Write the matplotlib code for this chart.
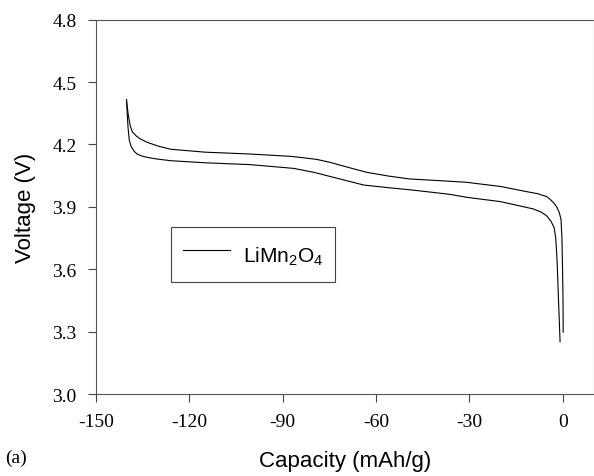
import matplotlib.pyplot as plt
import numpy as np

plt.rcParams['mathtext.fontset'] = 'custom'
plt.rcParams['mathtext.rm'] = 'Liberation Sans'
plt.rcParams['mathtext.it'] = 'Liberation Sans:italic'

# upper curve
cap_upper = [-140.2, -140.0, -139.6, -139.0, -138.3, -137.0, -135.7, -133.5, -130.0,
             -126.0, -115.0, -100.4, -87.6, -84.4, -79.0, -74.8, -69.0, -63.0,
             -56.0, -49.1, -42.0, -36.3, -30.9, -20.0, -11.6, -8.0, -5.0, -3.1,
             -2.0, -1.2, -0.6, -0.3, -0.1, 0.05, 0.1]
volt_upper = [4.415, 4.385, 4.34, 4.29, 4.26, 4.24, 4.226, 4.21, 4.192,
              4.177, 4.163, 4.154, 4.143, 4.138, 4.128, 4.114, 4.090, 4.066,
              4.048, 4.034, 4.028, 4.023, 4.018, 3.998, 3.973, 3.963, 3.948, 3.922,
              3.90, 3.875, 3.84, 3.75, 3.6, 3.45, 3.297]

# lower curve
cap_lower = [-140.2, -140.0, -139.7, -139.3, -138.7, -137.8, -136.8, -135.0, -132.5,
             -130.4, -126.0, -115.0, -100.4, -86.5, -80.0, -73.7, -64.0, -56.0,
             -49.1, -42.0, -36.3, -30.9, -20.0, -9.5, -7.0, -5.2, -3.8, -2.8,
             -2.3, -2.0, -1.8, -1.4, -0.9]
volt_lower = [4.415, 4.36, 4.28, 4.22, 4.19, 4.168, 4.154, 4.143, 4.135,
              4.13, 4.122, 4.112, 4.103, 4.085, 4.066, 4.042, 4.005, 3.992,
              3.982, 3.970, 3.960, 3.946, 3.925, 3.890, 3.875, 3.857, 3.83, 3.80,
              3.75, 3.68, 3.617, 3.45, 3.251]

x_ticks = [-150, -120, -90, -60, -30, 0]
y_ticks = [3.0, 3.3, 3.6, 3.9, 4.2, 4.5, 4.8]

fig = plt.figure(figsize=(5.94, 4.77), dpi=100)
ax = fig.add_axes([0.1616, 0.1719, 0.8384, 0.7847])

ax.plot(cap_upper, volt_upper, color='black', lw=0.8, label='LiMn$_2$O$_4$')
ax.plot(cap_lower, volt_lower, color='black', lw=0.8)

ax.set_xlim(-150, 10)
ax.set_ylim(3.0, 4.8)
ax.set_xticks(x_ticks)
ax.set_yticks(y_ticks)
ax.set_xticklabels([str(t) for t in x_ticks])
ax.set_yticklabels(['%.1f' % t for t in y_ticks])
ax.tick_params(direction='out', length=6, width=0.8, color='#444444', pad=8,
               labelsize=14)
for lab in ax.get_xticklabels() + ax.get_yticklabels():
    lab.set_family('Liberation Serif')
for s in ax.spines.values():
    s.set_color('#555555')
    s.set_linewidth(0.8)

ax.set_xlabel('Capacity (mAh/g)', family='Liberation Sans', fontsize=16, labelpad=14)
ax.set_ylabel('Voltage (V)', family='Liberation Sans', fontsize=16, labelpad=12)

leg = ax.legend(loc='center', bbox_to_anchor=(0.315, 0.372), fancybox=False,
                edgecolor='#444444', framealpha=1, handlelength=2.3,
                handleheight=2.0, prop={'family': 'Liberation Sans', 'size': 15},
                borderpad=0.55, handletextpad=0.6)
leg.get_frame().set_linewidth(0.8)

fig.text(0.008, 0.03, '(a)', family='Liberation Serif', fontsize=14)

fig.savefig('out.png', dpi=100)
